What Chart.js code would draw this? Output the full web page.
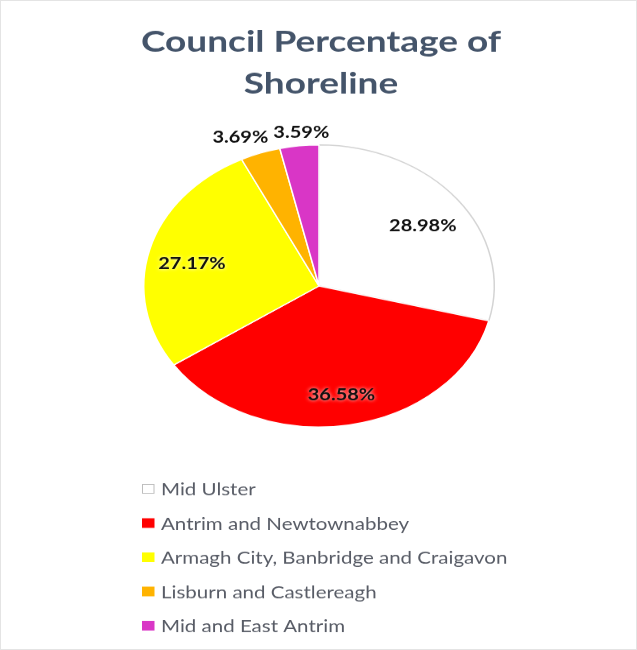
<!DOCTYPE html>
<html>
<head>
<meta charset="utf-8">
<script src="https://cdn.jsdelivr.net/npm/chart.js@4.4.1/dist/chart.umd.min.js"></script>
<style>
  html, body { margin: 0; padding: 0; background: #fff; }
  #frame { width: 637px; height: 650px; overflow: hidden; position: relative; box-sizing: border-box; border: 1px solid #e4e4e4; }
  /* the reference picture is squeezed vertically, so draw tall and squash */
  #squash { position: absolute; left: 0; top: 0; width: 637px; height: 807px; transform: scaleY(0.805); transform-origin: 0 0; }
</style>
</head>
<body>
<div id="frame"><div id="squash"><canvas id="pie" width="637" height="807"></canvas></div></div>
<script>
const councils = [
  "Mid Ulster",
  "Antrim and Newtownabbey",
  "Armagh City, Banbridge and Craigavon",
  "Lisburn and Castlereagh",
  "Mid and East Antrim",
];
const shorelinePct = [28.98, 36.58, 27.17, 3.69, 3.59];
const sliceColors = ["#ffffff", "#ff0000", "#ffff00", "#ffb300", "#d936c6"];
const sliceBorders = ["#d4d4d4", "#ffffff", "#ffffff", "#ffffff", "#ffffff"];
const titleLines = ["Council Percentage of", "Shoreline"];

// percentage labels: big slices inside, small ones just outside the rim
const sliceLabels = {
  id: "sliceLabels",
  afterDatasetsDraw(chart) {
    const ctx = chart.ctx;
    const meta = chart.getDatasetMeta(0);
    ctx.save();
    ctx.font = "bold 20px Lato";
    ctx.fillStyle = "#111";
    ctx.textAlign = "center";
    ctx.textBaseline = "middle";
    ctx.shadowColor = "rgba(255,255,255,0.9)";
    ctx.shadowBlur = 4;
    const placed = [];
    meta.data.forEach((arc, i) => {
      const v = chart.data.datasets[0].data[i];
      const text = v.toFixed(2) + "%";
      const w = ctx.measureText(text).width;
      const mid = (arc.startAngle + arc.endAngle) / 2;
      const cos = Math.cos(mid), sin = Math.sin(mid);
      if (v > 10) {
        placed.push({ text, w, out: false,
          x: arc.x + cos * arc.outerRadius * 0.75,
          y: arc.y + sin * arc.outerRadius * 0.75 + 6 });
      } else {
        placed.push({ text, w, out: true,
          x: arc.x + cos * (arc.outerRadius + 12) + cos * w / 2,
          y: arc.y + sin * (arc.outerRadius + 12) + sin * 8 });
      }
    });
    // push overlapping outside labels apart
    const outs = placed.filter((p) => p.out).sort((a, b) => a.x - b.x);
    for (let k = 1; k < outs.length; k++) {
      const a = outs[k - 1], b = outs[k];
      const overlap = (a.x + a.w / 2 + 5) - (b.x - b.w / 2);
      if (overlap > 0) { a.x -= overlap / 2; b.x += overlap / 2; b.y += 4; }
    }
    placed.forEach((p) => ctx.fillText(p.text, p.x, p.y));
    ctx.restore();
  },
};

// title and a one-column legend
const titleAndLegend = {
  id: "titleAndLegend",
  afterDraw(chart) {
    const ctx = chart.ctx;
    ctx.save();
    ctx.fillStyle = "#44546a";
    ctx.font = "bold 37px Lato";
    ctx.textAlign = "center";
    ctx.textBaseline = "alphabetic";
    ctx.fillText(titleLines[0], 320, 63);
    ctx.fillText(titleLines[1], 320, 115);

    const ds = chart.data.datasets[0];
    ctx.font = "20.5px Lato";
    ctx.textAlign = "left";
    chart.data.labels.forEach((label, i) => {
      const base = 614 + i * 42.5;
      ctx.fillStyle = ds.backgroundColor[i];
      ctx.fillRect(141, base - 14, 12.5, 12);
      if (i === 0) {
        ctx.strokeStyle = "#bdbdbd";
        ctx.lineWidth = 1;
        ctx.strokeRect(141.5, base - 13.5, 11.5, 11);
      }
      ctx.fillStyle = "#585c66";
      ctx.fillText(label, 160, base);
    });
    ctx.restore();
  },
};

new Chart(document.getElementById("pie"), {
  type: "pie",
  data: {
    labels: councils,
    datasets: [{
      data: shorelinePct,
      backgroundColor: sliceColors,
      borderColor: sliceBorders,
      borderWidth: 1.5,
    }],
  },
  options: {
    responsive: false,
    animation: false,
    layout: { padding: { top: 178, bottom: 277, left: 142, right: 143 } },
    plugins: {
      legend: { display: false },
      title: { display: false },
      tooltip: { enabled: false },
    },
  },
  plugins: [sliceLabels, titleAndLegend],
});
</script>
</body>
</html>
